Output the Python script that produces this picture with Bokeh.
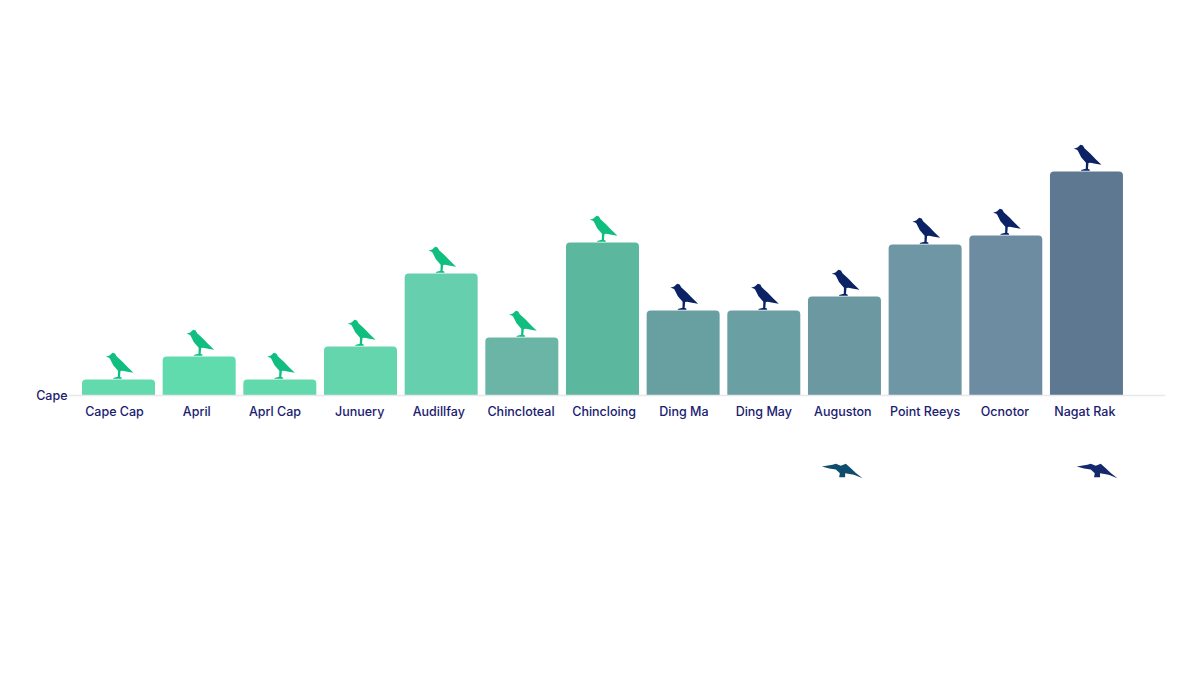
from bokeh.plotting import figure
from bokeh.models import Range1d, FixedTicker, LinearAxis
from bokeh.embed import file_html
from bokeh.resources import INLINE

categories = ["Cape Cap", "April", "Aprl Cap", "Junuery", "Audillfay", "Chincloteal",
              "Chincloing", "Ding Ma", "Ding May", "Auguston", "Point Reeys", "Ocnotor", "Nagat Rak"]
values = [16, 39, 16, 49, 122, 58, 153, 85, 85, 99, 151, 160, 224]
y_tick_label = "Cape"
flyer_index = [8.98, 12.14]
flyer_values = [-74, -74]
label_positions = [-0.05, 0.97, 1.94, 2.99, 3.97, 4.99, 6.02, 7.01, 8.0, 8.98, 10.0, 10.99, 11.98]

BAR_COLORS = ["#62DAAE", "#5FDBAD", "#62D9AD", "#64D5AD", "#66CFAD", "#6AB5A6", "#5CB79F",
              "#689FA0", "#6A9FA3", "#6C98A2", "#6F96A4", "#6D8CA2", "#5D7890"]
GREEN, NAVY = "#10BF80", "#0B2265"
BIRD_COLORS = [GREEN] * 7 + [NAVY] * 6
FLYER_COLORS = ["#0F4C6E", "#14286E"]
TEXT = "#1A2070"
FONT = "Inter Medium"

UNIT = 80.67
PERCH = [(-12.7,22.7),(-9,24),(-6,26.7),(-3.5,26),(-2,23.3),(4,17.7),(9,12.5),(15,6.7),(9,7.7),(4,8.7),
         (2,8.5),(1.5,2.7),(3.3,1.7),(3.3,.7),(-5.3,.7),(-5.3,1.5),(-.7,2.7),(-.5,8.7),(-5.3,14.3),(-8.7,21),(-10,22)]
FLYER = [(-21,3),(-10.3,4.7),(-7,5.7),(-2,3.7),(3,5.7),(8,1.3),(13,-3.5),(19.7,-8.7),(11,-5.3),(2.3,-3.7),
         (2.3,-7.7),(-3.7,-7.7),(-3,-3.7),(-7,0),(-13.7,1)]

p = figure(width=1184, height=659, output_backend="svg", toolbar_location=None,
           x_range=Range1d(-0.62, 12.98), y_range=Range1d(-264, 387),
           x_axis_location=None, y_axis_location=None,
           min_border_left=68, min_border_right=19, min_border_top=8, min_border_bottom=0,
           outline_line_color=None, background_fill_color="white", border_fill_color="white")
p.grid.visible = False

idx = list(range(len(categories)))
p.vbar(x=idx, top=values, bottom=0, width=73 / UNIT, fill_color=BAR_COLORS,
       line_color=None, border_radius=(4, 4, 0, 0))

px = [[i + dx / UNIT for dx, _ in PERCH] for i in idx]
py = [[v + dy for _, dy in PERCH] for v in values]
p.patches(px, py, fill_color=BIRD_COLORS, line_color=None)

fx = [[i + dx / UNIT for dx, _ in FLYER] for i in flyer_index]
fy = [[v + dy for _, dy in FLYER] for v in flyer_values]
p.patches(fx, fy, fill_color=FLYER_COLORS, line_color=None)

xa = LinearAxis(ticker=FixedTicker(ticks=label_positions), fixed_location=0,
                major_label_overrides=dict(zip(label_positions, categories)))
xa.axis_line_color = "#E6E8EC"
xa.axis_line_width = 1.5
xa.major_tick_line_color = None
xa.major_tick_out = 0
xa.minor_tick_line_color = None
xa.major_label_standoff = 8
xa.major_label_text_font = FONT
xa.major_label_text_font_size = "12.5px"
xa.major_label_text_color = TEXT
p.add_layout(xa, "below")

ya = LinearAxis(ticker=FixedTicker(ticks=[0]), major_label_overrides={0: y_tick_label})
ya.axis_line_color = None
ya.major_tick_line_color = None
ya.major_tick_out = 0
ya.minor_tick_line_color = None
ya.major_label_standoff = 1
ya.major_label_text_font = FONT
ya.major_label_text_font_size = "12.5px"
ya.major_label_text_color = TEXT
p.add_layout(ya, "left")

open("out.html", "w").write(file_html(p, INLINE))
